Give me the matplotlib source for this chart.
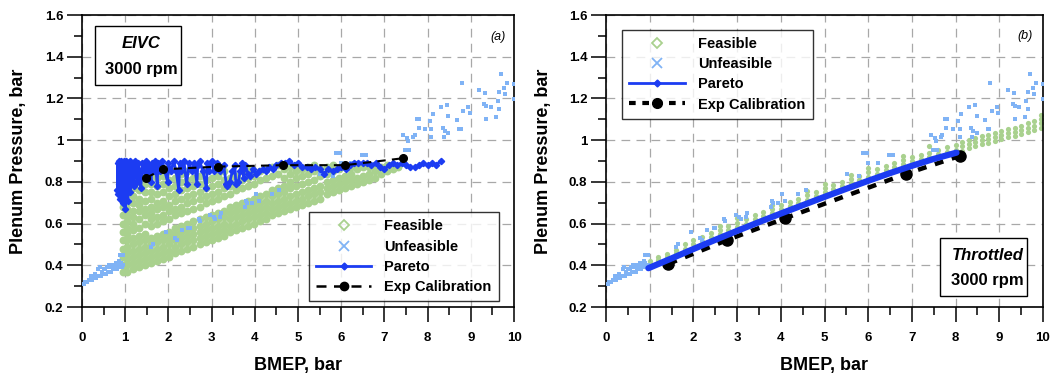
import matplotlib
matplotlib.use("Agg")
import matplotlib.pyplot as plt
from matplotlib.lines import Line2D
from matplotlib.patches import Rectangle
from matplotlib.ticker import MultipleLocator, FuncFormatter

plt.rcParams['font.family'] = ['Liberation Sans', 'DejaVu Sans']

# ---------------- data ----------------
# Panel (a) EIVC feasible points, organised as columns (x) with lists of y
feas_a_colx = [0.95, 1.05, 1.18, 1.32, 1.46, 1.60, 1.74, 1.88, 2.02, 2.16, 2.30, 2.44,
               2.58, 2.72, 2.86, 3.00, 3.14, 3.28, 3.42, 3.56, 3.70, 3.84, 3.98, 4.12,
               4.26, 4.40, 4.54, 4.68, 4.82, 4.96, 5.10, 5.24, 5.38, 5.52, 5.66, 5.80,
               5.94, 6.08, 6.22, 6.36, 6.50, 6.64, 6.78, 6.92, 7.06, 7.20, 7.32]
feas_a_coly = [
    [0.37, 0.40, 0.44, 0.48, 0.52, 0.56, 0.60, 0.64, 0.68, 0.72, 0.76, 0.80],
    [0.37, 0.40, 0.43, 0.46, 0.49, 0.52, 0.55, 0.58, 0.61, 0.64, 0.67, 0.70, 0.74, 0.78, 0.82],
    [0.38, 0.41, 0.44, 0.47, 0.50, 0.53, 0.57, 0.60, 0.63, 0.66, 0.70, 0.73, 0.77, 0.80, 0.84],
    [0.39, 0.42, 0.45, 0.48, 0.51, 0.54, 0.58, 0.62, 0.66, 0.69, 0.72, 0.76, 0.80, 0.84],
    [0.40, 0.43, 0.46, 0.49, 0.52, 0.55, 0.60, 0.64, 0.67, 0.71, 0.75, 0.79, 0.82, 0.86],
    [0.41, 0.44, 0.47, 0.50, 0.53, 0.59, 0.62, 0.65, 0.68, 0.72, 0.75, 0.79, 0.83],
    [0.42, 0.45, 0.48, 0.51, 0.54, 0.60, 0.63, 0.67, 0.70, 0.74, 0.78, 0.82, 0.85],
    [0.43, 0.46, 0.49, 0.52, 0.55, 0.61, 0.64, 0.68, 0.71, 0.75, 0.79, 0.83],
    [0.44, 0.47, 0.50, 0.53, 0.56, 0.62, 0.66, 0.69, 0.73, 0.77, 0.81, 0.85],
    [0.46, 0.49, 0.52, 0.55, 0.58, 0.64, 0.67, 0.71, 0.74, 0.78, 0.82],
    [0.47, 0.50, 0.53, 0.56, 0.59, 0.65, 0.68, 0.72, 0.76, 0.80, 0.84],
    [0.48, 0.51, 0.54, 0.57, 0.60, 0.66, 0.70, 0.73, 0.77, 0.81, 0.85],
    [0.49, 0.52, 0.55, 0.58, 0.61, 0.67, 0.71, 0.74, 0.78, 0.82],
    [0.50, 0.53, 0.56, 0.59, 0.62, 0.68, 0.72, 0.75, 0.79, 0.83],
    [0.51, 0.54, 0.57, 0.60, 0.63, 0.70, 0.73, 0.77, 0.81, 0.85],
    [0.52, 0.55, 0.58, 0.61, 0.64, 0.71, 0.74, 0.78, 0.82],
    [0.53, 0.56, 0.59, 0.62, 0.65, 0.72, 0.75, 0.79, 0.83],
    [0.54, 0.57, 0.60, 0.63, 0.66, 0.73, 0.77, 0.81, 0.85],
    [0.56, 0.59, 0.62, 0.65, 0.68, 0.74, 0.78, 0.82],
    [0.57, 0.60, 0.63, 0.66, 0.69, 0.76, 0.79, 0.83],
    [0.58, 0.61, 0.64, 0.67, 0.70, 0.77, 0.81, 0.85],
    [0.59, 0.62, 0.65, 0.68, 0.71, 0.78, 0.82, 0.86],
    [0.60, 0.63, 0.66, 0.69, 0.72, 0.79, 0.83],
    [0.61, 0.64, 0.67, 0.70, 0.73, 0.81, 0.85],
    [0.62, 0.65, 0.68, 0.71, 0.74, 0.82, 0.86],
    [0.64, 0.67, 0.70, 0.73, 0.76, 0.83, 0.87],
    [0.65, 0.68, 0.71, 0.74, 0.77, 0.84, 0.88],
    [0.66, 0.69, 0.72, 0.75, 0.78, 0.82, 0.86],
    [0.67, 0.70, 0.73, 0.77, 0.80, 0.84, 0.87],
    [0.68, 0.71, 0.74, 0.78, 0.82, 0.85, 0.88],
    [0.69, 0.72, 0.75, 0.79, 0.83, 0.86],
    [0.70, 0.73, 0.76, 0.80, 0.84, 0.87],
    [0.71, 0.74, 0.77, 0.81, 0.85, 0.88],
    [0.72, 0.75, 0.78, 0.83, 0.86],
    [0.74, 0.77, 0.80, 0.84, 0.87],
    [0.75, 0.78, 0.81, 0.85, 0.88],
    [0.76, 0.79, 0.82, 0.86],
    [0.77, 0.80, 0.83, 0.87],
    [0.78, 0.81, 0.84, 0.87],
    [0.79, 0.82, 0.86],
    [0.80, 0.83, 0.87],
    [0.81, 0.84, 0.87],
    [0.82, 0.85, 0.88],
    [0.84, 0.87],
    [0.85, 0.88],
    [0.86, 0.88],
    [0.87],
]

# Panel (b) Throttled feasible points
feas_b_colx = [1.0, 1.2, 1.4, 1.6, 1.8, 2.0, 2.2, 2.4, 2.6, 2.8, 3.0, 3.2, 3.4, 3.6, 3.8,
               4.0, 4.2, 4.4, 4.6, 4.8, 5.0, 5.2, 5.4, 5.6, 5.8, 6.0, 6.2, 6.4, 6.6, 6.8,
               7.0, 7.2, 7.4, 7.6, 7.8, 8.0, 8.15, 8.30, 8.45, 8.60, 8.75, 8.90, 9.05,
               9.20, 9.35, 9.50, 9.65, 9.80, 9.95]
feas_b_coly = [
    [0.405, 0.42], [0.425, 0.44], [0.44, 0.455], [0.46, 0.475], [0.48, 0.50],
    [0.50, 0.52], [0.515, 0.535], [0.535, 0.555], [0.55, 0.57, 0.59], [0.57, 0.59],
    [0.585, 0.605, 0.625], [0.60, 0.62], [0.62, 0.64], [0.635, 0.655], [0.65, 0.67, 0.69],
    [0.67, 0.69], [0.685, 0.705], [0.70, 0.72], [0.715, 0.735, 0.755], [0.73, 0.75],
    [0.75, 0.77, 0.79], [0.765, 0.785], [0.78, 0.80], [0.795, 0.815, 0.835], [0.81, 0.83],
    [0.825, 0.845, 0.865], [0.84, 0.86], [0.855, 0.875], [0.87, 0.89], [0.885, 0.905, 0.925],
    [0.90, 0.92], [0.91, 0.93], [0.92, 0.94, 0.97], [0.935, 0.955], [0.945, 0.965],
    [0.955, 0.975], [0.95, 0.97, 0.99], [0.96, 0.98, 1.0], [0.97, 0.99, 1.01],
    [0.98, 1.0, 1.02], [0.985, 1.005, 1.025], [0.995, 1.015, 1.035], [1.005, 1.025, 1.045],
    [1.015, 1.035, 1.055], [1.02, 1.04, 1.06], [1.03, 1.05, 1.07], [1.04, 1.06, 1.08],
    [1.05, 1.07, 1.09], [1.06, 1.08, 1.10, 1.12],
]

# Unfeasible points (same set in both panels)
unf_x = [0.00, 0.04, 0.08, 0.12, 0.16, 0.20, 0.24, 0.28, 0.32, 0.36, 0.40, 0.44, 0.48,
         0.52, 0.56, 0.60, 0.64, 0.68, 0.72, 0.76, 0.80, 0.84, 0.88, 0.92, 0.96,
         0.20, 0.30, 0.38, 0.42, 0.50, 0.58, 0.62, 0.70, 0.74, 0.78, 0.82, 0.86, 0.90,
         0.95, 0.66, 0.46, 0.26, 0.54, 0.89,
         1.60, 1.65, 1.95, 2.15, 2.19, 2.32, 2.46, 2.50, 2.71, 2.73, 2.97, 3.05, 3.08,
         3.20, 3.22, 3.77, 3.79, 3.83, 3.93, 4.02, 4.10, 4.39, 4.57, 5.51, 5.80, 5.89,
         5.97, 6.00, 6.23, 6.48, 6.57,
         9.71, 8.79, 9.83, 9.77, 9.19, 9.65, 9.34, 9.79, 10.0, 10.0, 9.62, 8.44, 8.31,
         9.31, 9.35, 9.46, 8.94, 9.65, 8.83, 8.97, 8.13, 8.48, 9.35, 9.58, 7.75, 7.80,
         8.06, 8.67, 7.94, 7.79, 8.09, 8.35, 8.73, 8.77, 8.40, 8.48, 8.38, 8.09, 7.44,
         7.52, 7.67, 7.70, 7.58, 7.48, 7.55]
unf_y = [0.31, 0.31, 0.32, 0.32, 0.33, 0.33, 0.33, 0.34, 0.34, 0.35, 0.35, 0.35, 0.36,
         0.36, 0.36, 0.37, 0.37, 0.37, 0.38, 0.38, 0.38, 0.39, 0.39, 0.39, 0.40,
         0.35, 0.36, 0.38, 0.39, 0.38, 0.39, 0.40, 0.40, 0.39, 0.41, 0.40, 0.42, 0.41,
         0.45, 0.39, 0.37, 0.35, 0.38, 0.45,
         0.49, 0.50, 0.56, 0.53, 0.52, 0.57, 0.58, 0.58, 0.62, 0.61, 0.64, 0.63, 0.62,
         0.63, 0.65, 0.68, 0.71, 0.70, 0.70, 0.74, 0.71, 0.74, 0.76, 0.84, 0.83, 0.94,
         0.94, 0.89, 0.89, 0.93, 0.93,
         1.317, 1.273, 1.273, 1.252, 1.24, 1.232, 1.225, 1.221, 1.197, 1.268, 1.188,
         1.169, 1.157, 1.173, 1.164, 1.157, 1.157, 1.148, 1.141, 1.132, 1.124, 1.116,
         1.10, 1.112, 1.10, 1.10, 1.093, 1.097, 1.054, 1.057, 1.052, 1.06, 1.054, 1.054,
         1.044, 1.033, 1.017, 1.014, 1.025, 1.009, 1.014, 1.025, 0.953, 0.953, 0.997]

# Pareto fronts
par_a_x = [0.82, 0.83, 0.84, 0.85, 0.86, 0.87, 0.88, 0.89, 0.90, 0.91, 0.92, 0.93, 0.94,
           0.95, 0.96, 0.97, 0.98, 0.99, 1.00, 1.01, 1.02, 1.03, 1.04, 1.05, 1.06, 1.07,
           1.08, 1.10, 1.12, 1.14, 1.16, 1.18, 1.20, 1.22, 1.24, 1.26, 1.28, 1.30,
           1.34, 1.36, 1.40, 1.44, 1.48, 1.50, 1.55, 1.60, 1.62, 1.66, 1.70, 1.74, 1.76,
           1.80, 1.86, 1.92, 1.98, 2.00, 2.06, 2.12, 2.18, 2.24, 2.26, 2.30, 2.36, 2.42,
           2.48, 2.54, 2.60, 2.66, 2.68, 2.72, 2.80, 2.88, 2.90, 2.94, 3.00, 3.06, 3.12,
           3.20, 3.28, 3.34, 3.36, 3.42, 3.48, 3.54, 3.56, 3.62, 3.66, 3.70, 3.74, 3.78,
           3.84, 3.90, 3.96, 4.02, 4.10, 4.18, 4.26, 4.34, 4.42, 4.50, 4.60, 4.70, 4.80,
           4.90, 5.00, 5.10, 5.20, 5.30, 5.40, 5.50, 5.60, 5.70, 5.80, 5.90, 6.00, 6.10,
           6.20, 6.30, 6.40, 6.50, 6.60, 6.70, 6.80, 6.90, 7.00, 7.10, 7.20, 7.30, 7.40,
           7.50, 7.60, 7.70, 7.80, 7.90, 8.00, 8.10, 8.20, 8.30]
par_a_y = [0.76, 0.89, 0.74, 0.90, 0.79, 0.88, 0.72, 0.89, 0.77, 0.90, 0.73, 0.88, 0.80,
           0.89, 0.70, 0.90, 0.76, 0.88, 0.67, 0.89, 0.74, 0.90, 0.78, 0.88, 0.71, 0.89,
           0.79, 0.90, 0.75, 0.88, 0.81, 0.89, 0.78, 0.90, 0.83, 0.88, 0.80, 0.89,
           0.85, 0.77, 0.89, 0.85, 0.90, 0.84, 0.88, 0.80, 0.89, 0.85, 0.90, 0.78, 0.89,
           0.85, 0.90, 0.85, 0.80, 0.89, 0.85, 0.90, 0.85, 0.76, 0.89, 0.85, 0.90, 0.79,
           0.89, 0.85, 0.89, 0.79, 0.88, 0.90, 0.85, 0.77, 0.89, 0.85, 0.90, 0.85, 0.89,
           0.85, 0.88, 0.79, 0.78, 0.80, 0.85, 0.88, 0.79, 0.80, 0.85, 0.89, 0.82, 0.88,
           0.84, 0.83, 0.86, 0.84, 0.85, 0.86, 0.85, 0.87, 0.86, 0.88, 0.89, 0.89, 0.90,
           0.88, 0.89, 0.87, 0.87, 0.86, 0.87, 0.86, 0.84, 0.86, 0.85, 0.86, 0.87, 0.86,
           0.88, 0.89, 0.89, 0.89, 0.89, 0.88, 0.89, 0.87, 0.86, 0.88, 0.89, 0.88, 0.89,
           0.88, 0.87, 0.87, 0.88, 0.89, 0.88, 0.89, 0.88, 0.90]
par_b_x = [0.97, 1.5, 2.0, 2.5, 3.0, 3.5, 4.0, 4.5, 5.0, 5.5, 6.0, 6.5, 7.0, 7.5, 8.02]
par_b_y = [0.386, 0.433, 0.478, 0.522, 0.565, 0.607, 0.648, 0.688, 0.728, 0.767, 0.805,
           0.842, 0.877, 0.910, 0.940]

# Experimental calibration points
exp_a_x = [1.49, 1.87, 3.14, 4.65, 6.09, 7.42]
exp_a_y = [0.82, 0.86, 0.873, 0.88, 0.88, 0.913]
exp_b_x = [1.43, 2.76, 4.09, 6.86, 8.09]
exp_b_y = [0.407, 0.52, 0.625, 0.838, 0.924]

legend_labels = ['Feasible', 'Unfeasible', 'Pareto', 'Exp Calibration']

# ---------------- style ----------------
C_FEAS = '#a9d18e'
C_UNF = '#80b3f5'
C_PAR = '#1c3cf2'
GRID_C = '#a8a8a8'


def flatten(colx, coly):
    xs, ys = [], []
    for x, col in zip(colx, coly):
        for y in col:
            xs.append(x)
            ys.append(y)
    return xs, ys


W, H = 1052, 376
fig = plt.figure(figsize=(W / 100, H / 100), dpi=100)
ax_a = fig.add_axes([82 / W, 1 - 307 / H, 432 / W, 292 / H])
ax_b = fig.add_axes([606 / W, 1 - 307 / H, 437 / W, 292 / H])


def style_axes(ax):
    ax.set_xlim(0, 10)
    ax.set_ylim(0.2, 1.6)
    ax.xaxis.set_major_locator(MultipleLocator(1))
    ax.xaxis.set_minor_locator(MultipleLocator(0.5))
    ax.yaxis.set_major_locator(MultipleLocator(0.2))
    ax.yaxis.set_minor_locator(MultipleLocator(0.1))
    ax.yaxis.set_major_formatter(FuncFormatter(lambda v, p: '%g' % round(v, 2)))
    ax.grid(True, which='major', color=GRID_C, lw=0.9, dashes=(7, 5), zorder=0)
    ax.set_axisbelow(True)
    ax.tick_params(which='major', direction='out', length=11, width=1.1,
                   labelsize=9.5, top=False, right=False)
    ax.tick_params(which='minor', direction='out', length=6, width=1.1,
                   top=False, right=False)
    ax.tick_params(axis='x', which='major', pad=7)
    ax.tick_params(axis='y', which='major', pad=2.5)
    for lab in ax.get_xticklabels() + ax.get_yticklabels():
        lab.set_fontweight('bold')
    for s in ax.spines.values():
        s.set_linewidth(1.2)
        s.set_color('black')
    ax.set_xlabel('BMEP, bar', fontsize=13, fontweight='bold')
    ax.set_ylabel('Plenum Pressure, bar', fontsize=13, fontweight='bold')
    ax.xaxis.label.set_va('center')
    ax.yaxis.label.set_va('center')


for ax in (ax_a, ax_b):
    style_axes(ax)
ax_a.xaxis.set_label_coords(0.5, -0.202)
ax_a.yaxis.set_label_coords(-0.146, 0.5)
ax_b.xaxis.set_label_coords(0.5, -0.202)
ax_b.yaxis.set_label_coords(-0.144, 0.5)

# ---------------- panel (a) ----------------
fa_x, fa_y = flatten(feas_a_colx, feas_a_coly)
ax_a.scatter(fa_x, fa_y, s=32, marker='o', color=C_FEAS, linewidths=0, zorder=2)
ax_a.scatter(unf_x, unf_y, s=9, marker='s', color=C_UNF, linewidths=0, zorder=3)
ax_a.plot(par_a_x, par_a_y, color=C_PAR, lw=2.0, marker='D', ms=3.2, zorder=4)
ax_a.plot(exp_a_x, exp_a_y, color='black', lw=1.5, dashes=(4, 3), marker='o', ms=5.5,
          zorder=5)

# ---------------- panel (b) ----------------
fb_x, fb_y = flatten(feas_b_colx, feas_b_coly)
ax_b.scatter(fb_x, fb_y, s=14, marker='o', color=C_FEAS, linewidths=0, zorder=2)
ax_b.scatter(unf_x, unf_y, s=9, marker='s', color=C_UNF, linewidths=0, zorder=3)
ax_b.plot(exp_b_x, exp_b_y, color='black', lw=3.2, dashes=(2.0, 2.0), marker='o',
          ms=8, zorder=4, dash_capstyle='butt')
ax_b.plot(par_b_x, par_b_y, color=C_PAR, lw=4.5, zorder=5, solid_capstyle='round')

# ---------------- legends ----------------
def make_handles(exp_lw, exp_ms, exp_dash):
    return [
        Line2D([], [], ls='none', marker='D', mfc='none', mec=C_FEAS, ms=5.5, mew=1.3),
        Line2D([], [], ls='none', marker='x', color=C_UNF, ms=7, mew=1.3),
        Line2D([], [], color=C_PAR, lw=2, marker='D', ms=3.5, mfc=C_PAR),
        Line2D([], [], color='black', lw=exp_lw, dashes=exp_dash, marker='o', ms=exp_ms),
    ]


leg_kw = dict(borderaxespad=0, frameon=True, fancybox=False, edgecolor='black',
              handlelength=3.8, handletextpad=0.9, labelspacing=0.42, borderpad=0.5,
              prop={'weight': 'bold', 'size': 10.5}, numpoints=1)
leg_a = ax_a.legend(make_handles(1.8, 6, (4, 3)), legend_labels, loc='lower right',
                    bbox_to_anchor=(0.965, 0.02), **leg_kw)
leg_a.get_frame().set_linewidth(1.0)

leg_b = ax_b.legend(make_handles(3, 7, (1.6, 1.6)), legend_labels, loc='upper left',
                    bbox_to_anchor=(0.037, 0.949), **leg_kw)
leg_b.get_frame().set_linewidth(1.0)

# ---------------- annotation boxes ----------------
ax_a.add_patch(Rectangle((0.030, 0.760), 0.199, 0.202, transform=ax_a.transAxes,
                         fill=True, facecolor='white', edgecolor='black', lw=1.0,
                         zorder=6))
ax_a.text(0.138, 0.903, 'EIVC', transform=ax_a.transAxes, ha='center', va='center',
          fontsize=12, fontweight='bold', fontstyle='italic', zorder=7)
ax_a.text(0.138, 0.814, '3000 rpm', transform=ax_a.transAxes, ha='center', va='center',
          fontsize=12, fontweight='bold', zorder=7)
ax_a.text(0.963, 0.925, '(a)', transform=ax_a.transAxes, ha='center', va='center',
          fontsize=9, fontstyle='italic', zorder=7)

ax_b.add_patch(Rectangle((0.764, 0.038), 0.199, 0.198, transform=ax_b.transAxes,
                         fill=True, facecolor='white', edgecolor='black', lw=1.0,
                         zorder=6))
ax_b.text(0.874, 0.178, 'Throttled', transform=ax_b.transAxes, ha='center', va='center',
          fontsize=12, fontweight='bold', fontstyle='italic', zorder=7)
ax_b.text(0.872, 0.092, '3000 rpm', transform=ax_b.transAxes, ha='center', va='center',
          fontsize=12, fontweight='bold', zorder=7)
ax_b.text(0.959, 0.928, '(b)', transform=ax_b.transAxes, ha='center', va='center',
          fontsize=9, fontstyle='italic', zorder=7)

fig.savefig('out.png', dpi=100)
